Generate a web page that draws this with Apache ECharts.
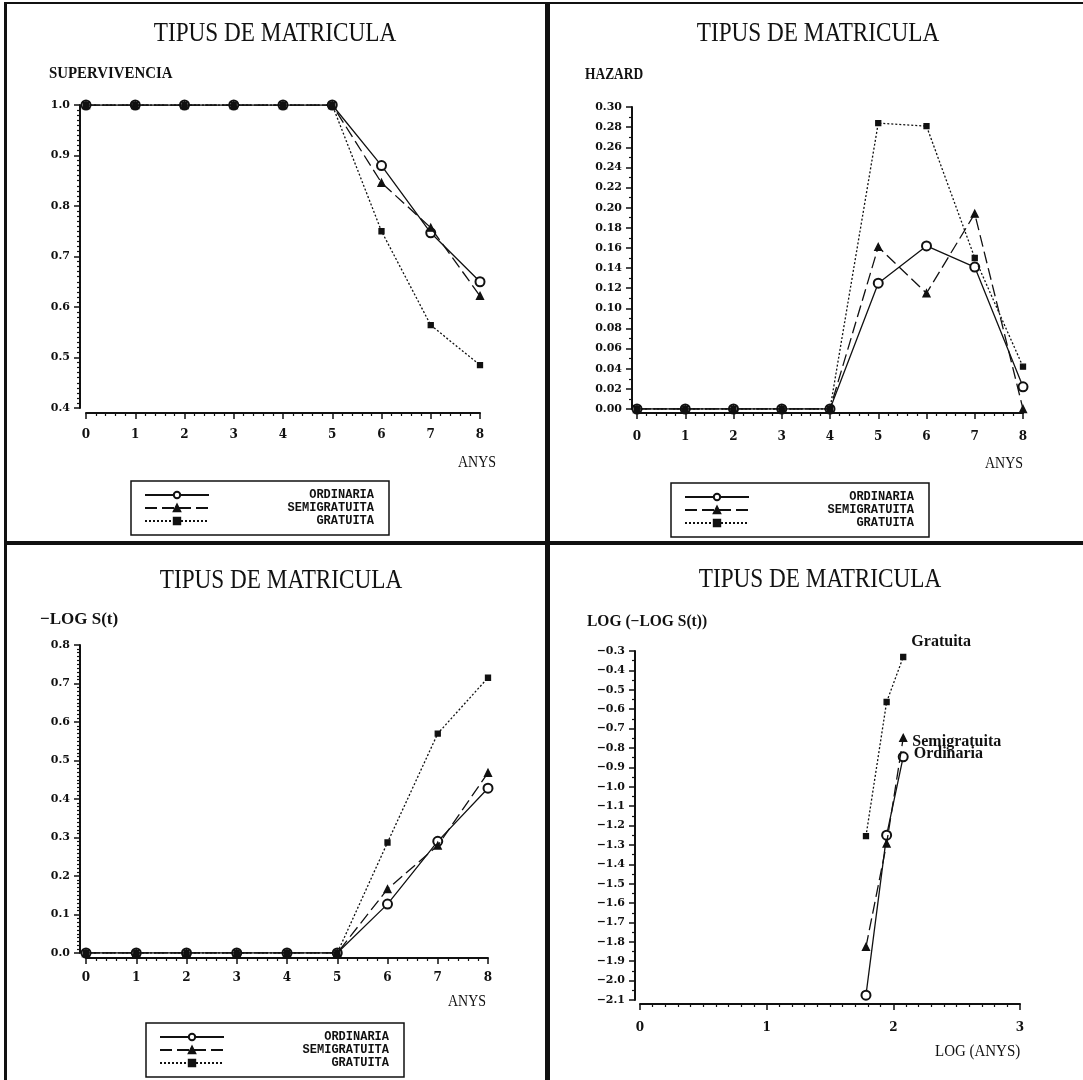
<!DOCTYPE html>
<html><head><meta charset="utf-8">
<script src="https://cdn.jsdelivr.net/npm/echarts@6/dist/echarts.min.js"></script>
<style>html,body{margin:0;padding:0;background:#fff}#c{width:1083px;height:1080px}</style>
</head><body><div id="c"></div>
<script>
// ---------------- DATA ----------------
const years = [0, 1, 2, 3, 4, 5, 6, 7, 8];
const seriesNames = ['ORDINARIA', 'SEMIGRATUITA', 'GRATUITA'];
const curveLabels = ['Ordinaria', 'Semigratuita', 'Gratuita'];
// Supervivencia S(t)
const survOrd  = [1, 1, 1, 1, 1, 1, 0.880, 0.747, 0.650];
const survSemi = [1, 1, 1, 1, 1, 1, 0.846, 0.757, 0.622];
const survGrat = [1, 1, 1, 1, 1, 1, 0.750, 0.564, 0.485];
// Hazard
const hazOrd  = [0, 0, 0, 0, 0, 0.125, 0.162, 0.141, 0.022];
const hazSemi = [0, 0, 0, 0, 0, 0.161, 0.115, 0.194, 0.000];
const hazGrat = [0, 0, 0, 0, 0, 0.284, 0.281, 0.150, 0.042];
// -LOG S(t)
const cumOrd  = [0, 0, 0, 0, 0, 0, 0.127, 0.290, 0.428];
const cumSemi = [0, 0, 0, 0, 0, 0, 0.166, 0.279, 0.468];
const cumGrat = [0, 0, 0, 0, 0, 0, 0.287, 0.570, 0.715];
// LOG(-LOG S(t)) vs LOG(ANYS)
const logYears = [1.784, 1.947, 2.078];
const llOrd  = [-2.075, -1.250, -0.846];
const llSemi = [-1.826, -1.293, -0.748];
const llGrat = [-1.255, -0.563, -0.331];

// ---------------- STYLE ----------------
const INK = '#111';
const lineTypes = ['solid', [12, 5], [2, 2]];
const symbols = ['emptyCircle', 'triangle', 'rect'];
const symbolSizes = [9, 7, 5];
const seriesZ = [3, 4, 5];
const tickFont = { fontFamily: 'DejaVu Serif', fontWeight: 'bold', fontSize: 12, color: INK };

function mkSeries(gi, k, xs, ys, extra) {
  return Object.assign({
    type: 'line', name: seriesNames[k], xAxisIndex: gi, yAxisIndex: gi,
    data: xs.map((x, i) => [x, ys[i]]),
    symbol: symbols[k], symbolSize: symbolSizes[k], showAllSymbol: true,
    lineStyle: { color: INK, width: 1.3, type: lineTypes[k] },
    itemStyle: { color: INK, borderColor: INK, borderWidth: 1.3 },
    z: seriesZ[k], animation: false
  }, extra || {});
}
function xAx(gi, min, max, interval, minor, offset, margin, dec) {
  return {
    type: 'value', gridIndex: gi, min: min, max: max, interval: interval, offset: offset,
    axisLine: { show: true, onZero: false, lineStyle: { color: INK, width: 2 } },
    axisTick: { show: true, length: 6, lineStyle: { color: INK, width: 1.5 } },
    minorTick: { show: true, splitNumber: minor, length: 3, lineStyle: { color: INK, width: 1.2 } },
    splitLine: { show: false },
    axisLabel: Object.assign({ margin: margin, formatter: v => v.toFixed(dec) }, tickFont)
  };
}
function yAx(gi, min, max, interval, minor, offset, dec) {
  return {
    type: 'value', gridIndex: gi, min: min, max: max, interval: interval, offset: offset,
    axisLine: { show: true, onZero: false, lineStyle: { color: INK, width: 2 } },
    axisTick: { show: true, length: 6, lineStyle: { color: INK, width: 1.5 } },
    minorTick: { show: true, splitNumber: minor, length: 3, lineStyle: { color: INK, width: 1.2 } },
    splitLine: { show: false },
    axisLabel: Object.assign({ margin: 10, formatter: v => v.toFixed(dec).replace('-', '\u2212') }, tickFont, { fontSize: 11 })
  };
}
function txt(x, y, text, size, weight, scaleX, align) {
  return {
    type: 'text', x: x, y: y, scaleX: scaleX, z: 10,
    style: {
      text: text, x: 0, y: 0, fill: INK,
      font: (weight || 'normal') + ' ' + size + 'px "Liberation Serif"',
      textAlign: align || 'left', align: align || 'left',
      textVerticalAlign: 'middle', verticalAlign: 'middle'
    }
  };
}
function legendAt(left, top) {
  return {
    data: seriesNames, orient: 'vertical', left: left, top: top,
    itemWidth: 64, itemHeight: 8, itemGap: 1, padding: [8, 15, 8, 13],
    borderColor: INK, borderWidth: 1.5, borderRadius: 0, selectedMode: false,
    formatter: '{r|{name}}',
    textStyle: { rich: { r: { width: 160, align: 'right', fontFamily: 'Liberation Mono', fontWeight: 'bold',
                             fontSize: 12, lineHeight: 9, height: 9, color: INK } } }
  };
}

const grids = [
  { left: 86,  top: 105, width: 394, height: 303 },
  { left: 637, top: 107, width: 386, height: 302 },
  { left: 86,  top: 645, width: 402, height: 308 },
  { left: 640, top: 651, width: 380, height: 349 }
];

const series = [];
[survOrd, survSemi, survGrat].forEach((d, k) => series.push(mkSeries(0, k, years, d)));
[hazOrd, hazSemi, hazGrat].forEach((d, k) => series.push(mkSeries(1, k, years, d)));
[cumOrd, cumSemi, cumGrat].forEach((d, k) => series.push(mkSeries(2, k, years, d)));
const labelOffsets = [[0, -3], [0, 4], [0, -15]];
[llOrd, llSemi, llGrat].forEach((d, k) => series.push(mkSeries(3, k, logYears, d, {
  label: {
    show: true, position: 'right', distance: 5, offset: labelOffsets[k],
    formatter: p => (p.dataIndex === d.length - 1 ? curveLabels[k] : ''),
    fontFamily: 'Liberation Serif', fontWeight: 'bold', fontSize: 16, color: INK
  }
})));

const TITLE = 'TIPUS DE MATRICULA';
const graphics = [
  // panel frame lines
  { type: 'rect', shape: { x: 5, y: 2, width: 1078, height: 2 }, style: { fill: INK } },
  { type: 'rect', shape: { x: 4, y: 2, width: 3, height: 1078 }, style: { fill: INK } },
  { type: 'rect', shape: { x: 545, y: 2, width: 5, height: 1078 }, style: { fill: INK } },
  { type: 'rect', shape: { x: 4, y: 541, width: 1079, height: 4 }, style: { fill: INK } },
  // titles
  txt(275, 34, TITLE, 27, 'normal', 0.86, 'center'),
  txt(818, 34, TITLE, 27, 'normal', 0.86, 'center'),
  txt(281, 581, TITLE, 27, 'normal', 0.86, 'center'),
  txt(820, 580, TITLE, 27, 'normal', 0.86, 'center'),
  // y-axis names
  txt(49, 74, 'SUPERVIVENCIA', 16, 'bold', 0.93),
  txt(585, 75, 'HAZARD', 16, 'bold', 0.84),
  txt(40, 620, '\u2212LOG S(t)', 17, 'bold', 1),
  txt(587, 622, 'LOG (\u2212LOG S(t))', 16, 'bold', 0.97),
  // x-axis names
  txt(458, 463, 'ANYS', 17, 'normal', 0.82),
  txt(985, 464, 'ANYS', 17, 'normal', 0.82),
  txt(448, 1002, 'ANYS', 17, 'normal', 0.82),
  txt(935, 1052, 'LOG (ANYS)', 17, 'normal', 0.88)
];

const option = {
  backgroundColor: '#fff',
  animation: false,
  grid: grids,
  xAxis: [
    xAx(0, 0, 8, 1, 5, 5, 16, 0),
    xAx(1, 0, 8, 1, 5, 4, 18, 0),
    xAx(2, 0, 8, 1, 5, 5, 14, 0),
    xAx(3, 0, 3, 1, 10, 4, 18, 0)
  ],
  yAxis: [
    yAx(0, 0.4, 1.0, 0.1, 10, 6, 1),
    yAx(1, 0, 0.30, 0.02, 2, 5, 2),
    yAx(2, 0, 0.8, 0.1, 10, 6, 1),
    yAx(3, -2.1, -0.3, 0.1, 2, 5, 1)
  ],
  legend: [legendAt(131, 481), legendAt(671, 483), legendAt(146, 1023)],
  series: series,
  graphic: { elements: graphics }
};

const chart = echarts.init(document.getElementById('c'), null, { renderer: 'canvas' });
chart.setOption(option);
</script>
</body></html>
